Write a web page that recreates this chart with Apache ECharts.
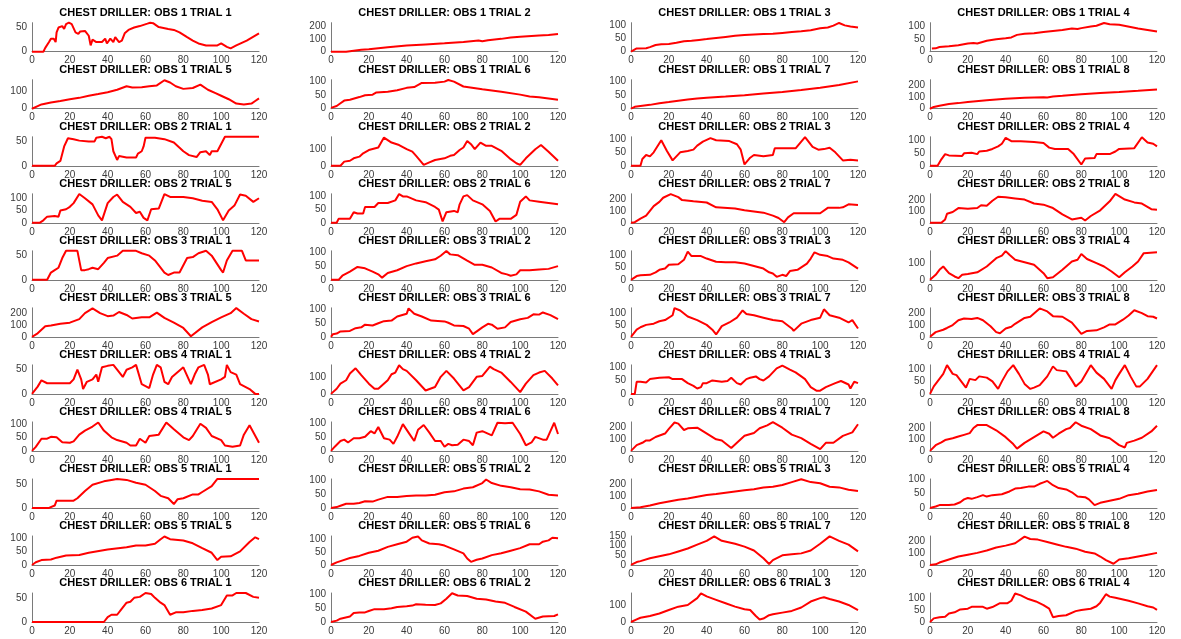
<!DOCTYPE html>
<html><head><meta charset="utf-8">
<script src="https://cdn.jsdelivr.net/npm/echarts@6/dist/echarts.min.js"></script>
<style>html,body{margin:0;padding:0;background:#fff}#c{width:1181px;height:639px}</style>
</head><body><div id="c"></div>
<script>
// ---- data: [time, value] pairs ----
const O1T1 = [[0,0],[6,0],[7,8],[9,20],[10,27],[11.5,27],[12.5,20],[13,40],[14,50],[16,53],[17,47],[18,57],[19.5,60],[21,57],[23,40],[24.5,37],[25.5,42],[28,43],[30,33],[31,13],[32,25],[34,20],[37,20],[38.7,27],[39.6,17],[40.5,13],[41.4,27],[43,20],[44,30],[46,20],[47.5,23],[49,38],[51,45],[54,50],[57,53],[61,58],[62.5,60],[64,59],[67,51],[69.5,49],[72,47],[75,45],[78,40],[82,30],[85,23],[88,17],[92,13],[98,13],[100,17],[103,10],[105,7],[108,13],[113.5,23],[120,38]];
const O1T2 = [[0,0],[8,0],[12,8],[16,15],[20,20],[30,35],[40,48],[50,57],[60,65],[70,76],[78,88],[80,82],[83,90],[90,100],[95,110],[100,117],[110,127],[115,130],[120,137]];
const O1T3 = [[0,0],[1,5],[3,12],[8,13],[10,17],[13,25],[16,28],[20,29],[24,33],[28,39],[32,41],[36,44],[40,47],[45,51],[50,55],[55,59],[60,62],[65,64],[70,66],[75,67],[80,70],[85,73],[90,76],[95,80],[100,87],[104,90],[107,97],[110,107],[113,98],[116,94],[120,90]];
const O1T4 = [[1,12],[3,13],[5,18],[10,21],[15,25],[20,32],[23,34],[25,32],[30,42],[35,48],[40,52],[43,55],[46,65],[50,69],[55,71],[60,76],[65,80],[70,84],[75,90],[78,88],[80,91],[85,97],[88,100],[92,111],[95,106],[100,104],[110,90],[120,78]];
const O1T5 = [[0,0],[3,15],[5,25],[10,36],[15,45],[20,55],[25,63],[30,75],[35,85],[40,96],[45,110],[50,130],[53,123],[58,125],[62,130],[66,135],[70,165],[73,152],[76,130],[80,115],[85,120],[89,140],[93,110],[97,90],[100,75],[104,55],[108,30],[112,25],[116,30],[118,45],[120,60]];
const O1T6 = [[0,3],[3,10],[5,20],[7,30],[10,33],[15,43],[18,50],[22,52],[24,60],[30,63],[35,68],[40,77],[44,80],[48,95],[55,96],[60,100],[62,106],[65,100],[70,82],[80,72],[90,63],[100,52],[105,45],[110,42],[120,33]];
const O1T7 = [[0,0],[2,7],[5,10],[10,14],[15,20],[20,24],[25,29],[30,33],[35,37],[40,40],[50,44],[60,49],[70,55],[80,61],[90,68],[100,76],[110,86],[120,99]];
const O1T8 = [[0,0],[2,15],[5,25],[10,40],[15,47],[20,57],[30,72],[40,84],[50,92],[60,97],[62,95],[65,102],[70,108],[80,122],[90,132],[100,140],[110,150],[120,162]];
const O2T1 = [[0,0],[12,0],[13,5],[15,10],[17,40],[19,57],[22,55],[25,52],[30,50],[33,50],[34,58],[37,60],[39,57],[41,60],[42,55],[43,30],[45,12],[46,20],[50,17],[55,17],[56,25],[58,30],[59,40],[60,58],[65,58],[70,55],[75,48],[80,30],[83,22],[87,18],[89,28],[92,30],[94,22],[95,30],[98,30],[100,45],[102,60],[120,60]];
const O2T2 = [[0,0],[5,0],[7,25],[10,30],[12,45],[15,55],[17,75],[20,95],[25,110],[28,170],[32,140],[36,125],[40,100],[43,85],[45,60],[49,5],[52,20],[55,35],[60,45],[63,60],[65,65],[68,95],[70,110],[72,150],[74,130],[76,100],[79,140],[82,120],[85,120],[90,90],[95,40],[98,15],[100,5],[103,45],[108,100],[111,125],[115,85],[120,30]];
const O2T3 = [[0,0],[5,0],[6,25],[8,40],[10,35],[12,50],[16,95],[19,55],[22,20],[26,50],[30,55],[33,60],[35,75],[38,90],[42,103],[45,95],[52,92],[56,80],[58,60],[60,5],[63,30],[65,40],[70,35],[75,40],[76,65],[80,65],[87,65],[92,107],[96,70],[99,60],[102,62],[105,67],[108,50],[112,20],[116,22],[120,20]];
const O2T4 = [[0,0],[4,0],[6,25],[8,45],[10,40],[17,38],[18,48],[22,50],[25,45],[26,55],[30,58],[33,65],[36,75],[38,85],[40,108],[43,95],[48,95],[55,92],[60,88],[63,70],[66,65],[73,65],[76,45],[80,5],[82,28],[87,30],[88,45],[95,45],[98,55],[100,65],[108,68],[112,110],[115,90],[118,85],[120,75]];
const O2T5 = [[0,0],[4,0],[6,10],[8,25],[12,28],[14,25],[15,50],[18,55],[20,65],[22,80],[25,117],[28,100],[32,75],[35,30],[37,10],[40,80],[43,105],[45,115],[48,85],[52,65],[55,40],[57,45],[59,20],[61,10],[63,55],[67,58],[70,117],[73,105],[80,105],[85,100],[90,90],[95,85],[98,55],[101,10],[104,50],[107,70],[110,115],[113,110],[117,85],[120,100]];
const O2T6 = [[0,0],[3,0],[4,15],[10,15],[12,40],[14,35],[17,35],[18,60],[23,60],[25,75],[30,75],[34,85],[36,109],[38,100],[40,100],[45,85],[50,78],[55,60],[57,50],[59,5],[61,40],[65,45],[67,40],[68,70],[70,100],[72,105],[75,85],[80,70],[84,45],[87,5],[89,15],[95,15],[98,30],[100,80],[103,100],[105,85],[110,80],[115,75],[120,70]];
const O2T7 = [[0,0],[2,5],[5,35],[8,60],[10,100],[12,140],[15,175],[17,210],[21,240],[25,215],[27,190],[33,180],[40,170],[45,130],[55,120],[60,105],[65,95],[70,85],[75,60],[78,40],[81,5],[83,45],[86,80],[100,80],[104,125],[110,125],[112,130],[115,155],[120,150]];
const O2T8 = [[0,0],[6,0],[8,30],[9,80],[12,95],[15,130],[20,125],[25,130],[27,155],[30,150],[33,195],[36,230],[40,225],[45,215],[50,205],[55,170],[60,160],[65,130],[70,75],[75,30],[80,45],[82,20],[85,60],[90,110],[95,190],[98,255],[103,205],[108,180],[112,170],[117,120],[120,115]];
const O3T1 = [[0,0],[8,0],[10,15],[12,20],[14,25],[16,45],[18,60],[24,60],[26,20],[28,20],[30,22],[32,25],[35,22],[38,35],[40,45],[45,50],[48,60],[55,60],[58,55],[62,50],[65,40],[70,15],[72,10],[75,15],[78,15],[80,30],[82,45],[85,47],[88,55],[92,60],[95,50],[100,20],[101,15],[103,40],[106,60],[111,60],[113,40],[120,40]];
const O3T2 = [[0,0],[4,0],[6,15],[10,30],[14,47],[18,42],[22,30],[25,20],[27,8],[30,25],[35,35],[40,50],[45,60],[50,68],[55,75],[58,88],[61,105],[63,93],[67,90],[72,70],[76,55],[80,55],[85,45],[90,25],[93,20],[95,15],[98,20],[100,35],[105,35],[110,38],[115,40],[120,50]];
const O3T3 = [[0,0],[3,15],[5,18],[10,20],[13,30],[15,40],[18,45],[20,60],[25,62],[28,80],[30,113],[32,95],[37,95],[40,85],[45,72],[50,70],[55,70],[60,65],[65,55],[70,45],[73,30],[75,25],[77,12],[80,20],[82,15],[84,35],[88,40],[93,65],[95,85],[97,110],[100,100],[104,95],[107,85],[112,80],[115,70],[120,45]];
const O3T4 = [[0,0],[3,30],[5,60],[7,80],[10,40],[13,20],[15,10],[17,30],[20,35],[25,45],[30,80],[35,130],[38,145],[40,172],[42,150],[45,120],[50,105],[55,90],[60,40],[62,10],[65,15],[70,60],[75,110],[78,120],[80,155],[83,125],[88,100],[92,80],[96,50],[100,15],[103,45],[107,80],[110,110],[113,160],[120,165]];
const O3T5 = [[0,0],[3,30],[7,90],[10,95],[15,110],[20,120],[25,150],[28,200],[32,240],[36,200],[40,175],[43,180],[46,210],[50,185],[53,155],[58,165],[62,165],[66,205],[70,160],[75,120],[80,75],[84,5],[90,80],[95,125],[100,165],[105,200],[108,243],[112,195],[116,150],[120,130]];
const O3T6 = [[0,0],[1,10],[3,12],[5,20],[10,22],[13,32],[16,35],[18,45],[22,42],[25,50],[28,58],[32,60],[35,75],[40,85],[41,105],[44,85],[48,75],[53,60],[60,57],[62,52],[65,42],[70,40],[73,30],[75,10],[78,25],[80,35],[83,48],[85,45],[88,30],[92,35],[95,55],[100,65],[104,70],[107,83],[110,82],[112,90],[113,97],[116,80],[120,65]];
const O3T7 = [[0,0],[3,30],[5,40],[8,50],[12,55],[15,65],[18,70],[22,90],[23,120],[26,110],[30,85],[35,70],[40,50],[43,30],[45,10],[48,45],[52,60],[56,80],[59,110],[61,95],[65,90],[70,80],[75,70],[80,65],[85,35],[86,25],[90,55],[95,70],[100,80],[102,115],[105,90],[110,80],[115,60],[117,70],[120,35]];
const O3T8 = [[0,0],[3,40],[7,60],[9,75],[12,100],[15,140],[18,155],[22,150],[25,160],[28,140],[32,90],[35,40],[37,30],[40,70],[43,85],[45,110],[50,160],[53,170],[58,240],[62,215],[65,175],[70,170],[75,120],[80,25],[83,50],[88,55],[92,80],[95,105],[98,105],[102,145],[105,180],[108,225],[112,200],[115,175],[118,170],[120,155]];
const O4T1 = [[0,0],[3,15],[5,28],[8,22],[12,22],[20,22],[22,30],[24,50],[26,30],[27,10],[29,25],[32,30],[34,40],[35,25],[37,55],[40,58],[43,60],[45,50],[48,35],[50,50],[53,55],[55,60],[58,20],[62,12],[64,40],[66,60],[68,55],[70,25],[72,20],[74,35],[80,55],[84,20],[86,40],[88,55],[91,60],[93,40],[94,20],[100,30],[102,35],[103,60],[105,45],[108,40],[110,20],[115,10],[118,0],[120,0]];
const O4T2 = [[0,0],[3,30],[5,60],[8,80],[10,120],[13,150],[16,110],[20,60],[23,30],[25,30],[30,80],[32,115],[34,125],[36,168],[38,145],[40,135],[45,80],[50,20],[55,40],[58,100],[61,135],[65,90],[70,20],[73,40],[77,100],[80,105],[84,160],[86,145],[90,125],[95,70],[100,10],[103,60],[107,110],[110,125],[113,135],[117,90],[120,50]];
const O4T3 = [[0,0],[2,0],[3,45],[5,45],[8,42],[10,55],[15,60],[20,62],[22,55],[27,55],[30,40],[33,30],[35,20],[37,25],[38,40],[40,40],[43,50],[48,45],[51,48],[53,60],[56,40],[58,35],[61,55],[63,60],[66,65],[68,55],[70,50],[73,65],[77,95],[80,105],[84,90],[87,80],[90,65],[92,55],[95,25],[98,12],[100,12],[103,25],[108,40],[111,48],[115,35],[116,20],[118,45],[120,40]];
const O4T4 = [[0,0],[2,30],[5,60],[7,80],[9,115],[12,80],[14,75],[17,45],[19,25],[21,60],[24,55],[26,70],[30,65],[33,50],[36,20],[38,50],[41,90],[44,115],[47,80],[50,40],[53,20],[55,25],[58,35],[62,70],[65,110],[67,95],[72,90],[75,55],[77,30],[80,50],[85,115],[88,85],[92,60],[96,20],[98,55],[100,80],[103,115],[106,70],[109,30],[111,30],[115,60],[120,115]];
const O4T5 = [[0,0],[2,15],[5,45],[8,45],[10,52],[13,50],[16,32],[20,30],[22,35],[25,60],[28,75],[32,90],[35,105],[38,75],[42,50],[45,40],[50,30],[52,20],[55,20],[57,45],[60,30],[62,55],[67,60],[71,105],[75,80],[80,50],[83,40],[85,55],[89,100],[92,85],[95,55],[100,40],[102,20],[106,15],[110,20],[112,60],[115,95],[120,30]];
const O4T6 = [[0,0],[2,15],[5,35],[7,40],[9,30],[12,45],[15,45],[18,50],[21,70],[23,62],[25,85],[28,45],[31,40],[33,25],[35,50],[38,95],[41,65],[44,35],[46,75],[49,92],[52,65],[55,35],[58,35],[60,15],[62,25],[64,20],[67,22],[70,40],[73,35],[75,20],[77,65],[80,70],[85,55],[88,100],[92,98],[96,100],[100,60],[103,20],[106,30],[108,50],[112,40],[114,40],[116,70],[118,100],[120,60]];
const O4T7 = [[0,0],[3,50],[6,70],[8,90],[10,90],[13,120],[18,150],[20,190],[23,245],[25,235],[28,180],[30,195],[35,200],[38,170],[45,100],[48,90],[53,25],[56,70],[60,130],[65,155],[68,195],[72,220],[75,248],[80,200],[85,140],[90,110],[95,60],[100,15],[103,70],[107,70],[112,130],[117,160],[120,230]];
const O4T8 = [[0,0],[3,50],[6,75],[8,95],[12,110],[15,125],[18,140],[21,155],[23,200],[25,225],[30,225],[35,180],[40,120],[44,60],[46,20],[50,70],[55,120],[60,170],[63,150],[65,115],[68,150],[72,190],[74,200],[77,250],[80,220],[85,190],[90,135],[95,110],[100,50],[103,30],[104,70],[108,90],[112,115],[117,170],[120,220]];
const O5T1 = [[0,0],[9,0],[12,5],[13,15],[16,15],[22,15],[24,20],[28,35],[32,48],[38,55],[42,58],[45,60],[50,58],[55,52],[60,48],[65,35],[68,25],[72,20],[75,8],[77,18],[80,20],[85,28],[88,28],[90,33],[95,45],[98,60],[120,60]];
const O5T2 = [[0,0],[3,3],[5,8],[8,15],[12,15],[15,18],[18,24],[22,23],[25,30],[30,40],[35,40],[40,43],[45,45],[50,45],[55,48],[60,57],[65,60],[70,70],[75,75],[80,90],[82,103],[85,90],[90,80],[95,75],[100,68],[105,67],[110,60],[115,48],[120,45]];
const O5T3 = [[0,0],[5,5],[10,20],[15,40],[20,55],[25,70],[30,80],[35,95],[40,110],[45,118],[50,130],[55,140],[60,150],[65,160],[70,175],[75,180],[80,195],[85,220],[90,245],[95,220],[100,210],[105,180],[110,175],[115,155],[120,145]];
const O5T4 = [[0,0],[3,5],[5,10],[10,10],[13,12],[16,20],[18,30],[20,35],[22,32],[25,38],[28,45],[30,40],[33,45],[38,48],[42,58],[45,68],[48,70],[52,75],[55,75],[58,85],[60,90],[62,95],[65,80],[68,70],[72,65],[75,55],[78,40],[82,38],[84,30],[87,10],[90,18],[95,25],[100,32],[105,45],[110,50],[115,58],[120,63]];
const O5T5 = [[0,0],[2,10],[5,18],[10,20],[13,27],[18,35],[25,37],[30,45],[40,57],[50,65],[55,72],[60,72],[65,78],[68,95],[70,105],[73,95],[80,90],[85,80],[90,62],[95,45],[98,18],[100,30],[105,32],[110,50],[115,85],[118,102],[120,95]];
const O5T6 = [[0,0],[3,10],[5,15],[10,27],[15,35],[20,47],[25,55],[30,70],[35,80],[40,90],[43,105],[46,110],[48,95],[52,83],[57,80],[60,75],[65,60],[70,45],[72,25],[74,12],[77,20],[80,25],[85,38],[90,45],[95,55],[100,65],[105,80],[110,80],[112,90],[115,95],[117,105],[120,103]];
const O5T7 = [[0,0],[3,15],[5,20],[10,35],[15,45],[20,55],[25,70],[30,85],[35,105],[40,125],[44,148],[48,125],[55,110],[60,95],[65,75],[70,35],[73,5],[75,25],[80,50],[85,55],[90,60],[95,75],[100,110],[105,148],[110,125],[115,105],[120,70]];
const O5T8 = [[0,0],[3,5],[5,20],[10,45],[15,70],[20,85],[25,100],[30,120],[35,145],[40,160],[45,180],[50,235],[53,215],[57,210],[62,190],[67,170],[72,150],[77,135],[82,110],[87,95],[90,70],[93,40],[97,10],[100,45],[105,55],[110,70],[115,85],[120,100]];
const O6T1 = [[0,0],[38,0],[40,10],[42,15],[45,15],[47,25],[50,40],[52,42],[54,50],[57,52],[60,60],[63,58],[65,50],[68,40],[70,35],[73,15],[76,20],[80,20],[85,23],[90,25],[95,28],[100,35],[103,55],[106,55],[108,60],[113,60],[117,52],[120,50]];
const O6T2 = [[0,0],[3,5],[5,12],[10,20],[12,33],[15,35],[18,35],[20,40],[23,47],[28,47],[32,50],[35,55],[40,58],[43,60],[45,65],[50,63],[55,62],[58,68],[61,85],[64,105],[67,97],[72,95],[77,85],[82,82],[87,75],[92,70],[97,55],[103,38],[108,12],[112,20],[118,22],[120,28]];
const O6T3 = [[0,0],[3,15],[5,25],[10,35],[15,50],[20,70],[25,90],[30,100],[35,140],[37,168],[40,150],[45,130],[50,110],[55,90],[60,75],[63,70],[66,35],[68,15],[70,20],[73,40],[75,45],[80,55],[85,65],[90,85],[95,120],[100,140],[102,145],[105,135],[110,120],[115,100],[120,70]];
const O6T4 = [[0,0],[2,15],[5,20],[8,22],[10,35],[13,40],[16,52],[20,55],[22,63],[28,63],[30,55],[33,62],[37,78],[41,78],[43,88],[45,118],[48,110],[52,95],[56,85],[60,70],[63,55],[65,20],[68,25],[72,28],[77,45],[80,50],[85,55],[88,65],[90,80],[93,115],[95,105],[98,100],[105,88],[110,77],[115,65],[118,60],[120,50]];

// panel order (row-major, 4 per row)
const panels = [O1T1,O1T2,O1T3,O1T4, O1T5,O1T6,O1T7,O1T8,
                O2T1,O2T2,O2T3,O2T4, O2T5,O2T6,O2T7,O2T8,
                O3T1,O3T2,O3T3,O3T4, O3T5,O3T6,O3T7,O3T8,
                O4T1,O4T2,O4T3,O4T4, O4T5,O4T6,O4T7,O4T8,
                O5T1,O5T2,O5T3,O5T4, O5T5,O5T6,O5T7,O5T8,
                O6T1,O6T2,O6T3,O6T4];
const obsNo   = [1,1,1,1,1,1,1,1, 2,2,2,2,2,2,2,2, 3,3,3,3,3,3,3,3, 4,4,4,4,4,4,4,4, 5,5,5,5,5,5,5,5, 6,6,6,6];
const trialNo = [1,2,3,4,5,6,7,8, 1,2,3,4,5,6,7,8, 1,2,3,4,5,6,7,8, 1,2,3,4,5,6,7,8, 1,2,3,4,5,6,7,8, 1,2,3,4];
// y-axis upper limits of each panel
const yMax = [60,226,108,112, 168,107,105,243,
              60,175,108,112, 118,110,243,256,
              60,106,116,174, 245,107,121,245,
              60,170,108,116, 107,103,250,253,
              60,105,247,102, 107,112,150,240,
              60,106,170,120];
const xTicks = {min:0, max:120, step:20};

// ---- layout ----
const colLeft = [32, 331, 631, 930];
const plotW = 227, plotH = 29, rowStep = 57.03, firstTop = 22.7;
const FONT = '"Liberation Sans", Arial, Helvetica, sans-serif';

const grids=[], xAxes=[], yAxes=[], series=[], graphics=[];
// each panel gets two overlaid y axes (same scale): one labels even tick
// multiples, the other odd ones, so tightly spaced labels are never auto-hidden
function tickLabel(iv, parity) {
  return v => {
    const k = Math.round(v / iv);
    return (Math.abs(v - k*iv) < 1e-9 && k % 2 === parity) ? String(v) : '';
  };
}
panels.forEach((d,i)=>{
  const r = Math.floor(i/4), c = i%4;
  const top = firstTop + r*rowStep;
  grids.push({left: colLeft[c], top: top, width: plotW, height: plotH, containLabel:false, outerBoundsMode:'none'});
  xAxes.push({type:'value', gridIndex:i, min:xTicks.min, max:xTicks.max, interval:xTicks.step,
    axisLine:{show:true, onZero:false, lineStyle:{color:'#7a7a7a', width:1}},
    axisTick:{show:false}, splitLine:{show:false},
    axisLabel:{fontSize:10, color:'#3a3a3a', margin:4, fontFamily:FONT, hideOverlap:false,
      showMinLabel:true, showMaxLabel:true}});
  const iv = yMax[i] <= 150 ? 50 : 100;
  [0,1].forEach(parity => {
    yAxes.push({type:'value', gridIndex:i, position:'left', offset:0, min:0, max:yMax[i], interval:iv,
      axisLine:{show: parity === 0, onZero:false, lineStyle:{color:'#7a7a7a', width:1}},
      axisTick:{show:false}, splitLine:{show:false},
      axisLabel:{fontSize:10, color:'#3a3a3a', margin:5, fontFamily:FONT, hideOverlap:false,
        formatter: tickLabel(iv, parity)}});
  });
  series.push({type:'line', xAxisIndex:i, yAxisIndex:2*i, data:d, showSymbol:false, symbol:'none',
    lineStyle:{color:'#ff0000', width:2}, itemStyle:{color:'#ff0000'}, clip:false, animation:false, silent:true});
  graphics.push({type:'text', x: colLeft[c] + plotW/2, y: top - 10.2,
    style:{text:'CHEST DRILLER: OBS ' + obsNo[i] + ' TRIAL ' + trialNo[i],
      align:'center', verticalAlign:'middle', textAlign:'center', textVerticalAlign:'middle',
      font:'bold 11px ' + FONT, fill:'#000'}});
});

const chart = echarts.init(document.getElementById('c'), null, {renderer:'canvas'});
chart.setOption({
  backgroundColor:'#ffffff',
  animation:false,
  grid: grids, xAxis: xAxes, yAxis: yAxes, series: series,
  graphic: graphics
});
</script>
</body></html>
